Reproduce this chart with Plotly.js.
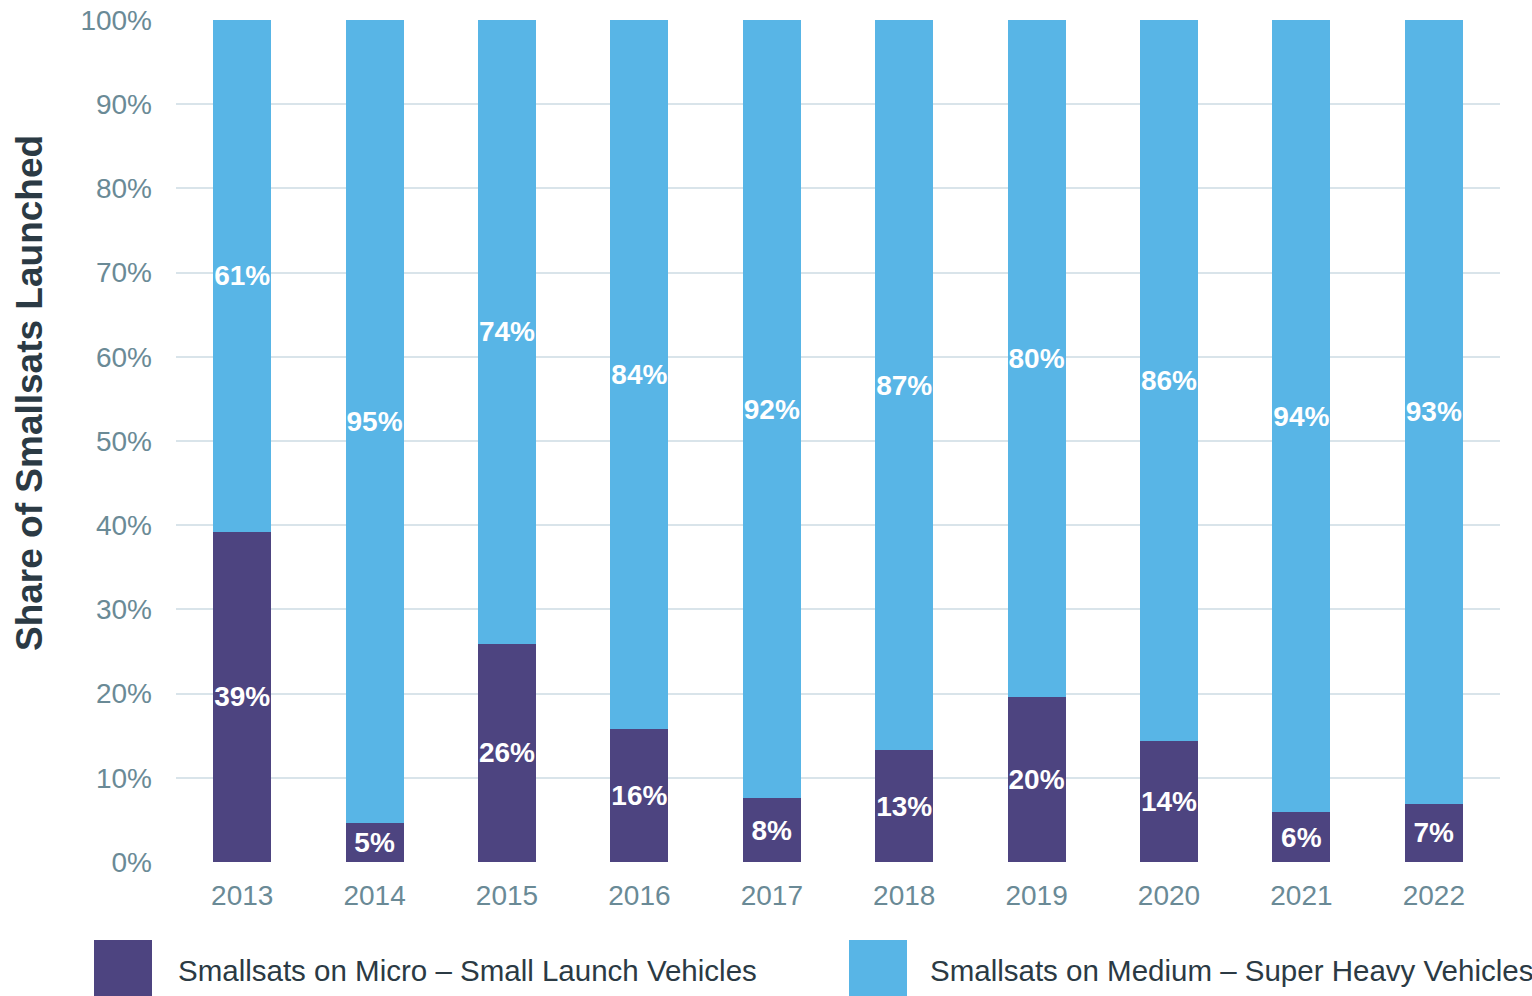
<!DOCTYPE html>
<html>
<head>
<meta charset="utf-8">
<script src="https://cdn.plot.ly/plotly-3.0.1.min.js"></script>
<style>html,body{margin:0;padding:0;background:#fff;}#chart{width:1532px;height:996px;}</style>
</head>
<body>
<div id="chart"></div>
<script>
const years = ['2013','2014','2015','2016','2017','2018','2019','2020','2021','2022'];
const microSmall = [39.2, 4.6, 25.9, 15.8, 7.6, 13.3, 19.6, 14.4, 5.9, 6.9];
const mediumHeavy = [60.8, 95.4, 74.1, 84.2, 92.4, 86.7, 80.4, 85.6, 94.1, 93.1];
const yTickVals = [0,10,20,30,40,50,60,70,80,90,100];
const yTickText = ['0%','10%','20%','30%','40%','50%','60%','70%','80%','90%','100%'];
const seriesNames = ['Smallsats on Micro – Small Launch Vehicles', 'Smallsats on Medium – Super Heavy Vehicles'];
const colors = ['#4d4480', '#58b5e6'];

const FONT = 'Liberation Sans, Arial, sans-serif';
const fmt = v => Math.round(v) + '%';

const common = {
  type: 'bar', x: years, textposition: 'inside', insidetextanchor: 'middle',
  textangle: 0, constraintext: 'none', cliponaxis: false,
  textfont: {family: FONT, size: 28, color: '#ffffff', weight: 'bold'},
  hoverinfo: 'x+y', showlegend: false
};
const traces = [
  Object.assign({}, common, {name: seriesNames[0], y: microSmall, text: microSmall.map(fmt), marker: {color: colors[0]}}),
  Object.assign({}, common, {name: seriesNames[1], y: mediumHeavy, text: mediumHeavy.map(fmt), marker: {color: colors[1]}})
];

const px2x = p => (p - 176) / 1324;
const px2y = p => (862 - p) / 842;

const layout = {
  width: 1532, height: 996,
  margin: {l: 176, r: 32, t: 20, b: 134},
  paper_bgcolor: '#ffffff', plot_bgcolor: '#ffffff',
  barmode: 'stack', bargap: 0.562,
  font: {family: FONT},
  xaxis: {
    type: 'category', showgrid: false, zeroline: false, showline: false,
    ticks: '', tickfont: {family: FONT, size: 28, color: '#6a8a96'}, ticklabelstandoff: 14
  },
  yaxis: {
    range: [0, 100], tickvals: yTickVals, ticktext: yTickText,
    showgrid: true, gridcolor: '#d9e4ea', gridwidth: 2, zeroline: false, showline: false,
    ticks: '', tickfont: {family: FONT, size: 28, color: '#6a8a96'}, ticklabelstandoff: 23
  },
  shapes: [
    {type: 'rect', xref: 'paper', yref: 'paper', x0: px2x(94), x1: px2x(152), y0: px2y(996), y1: px2y(940), fillcolor: colors[0], line: {width: 0}},
    {type: 'rect', xref: 'paper', yref: 'paper', x0: px2x(849), x1: px2x(907), y0: px2y(996), y1: px2y(940), fillcolor: colors[1], line: {width: 0}}
  ],
  annotations: [
    {text: 'Share of Smallsats Launched', xref: 'paper', yref: 'paper', x: px2x(29), y: px2y(393), textangle: -90,
     xanchor: 'center', yanchor: 'middle', showarrow: false, font: {family: FONT, size: 37, color: '#2b3a44', weight: 'bold'}},
    {text: seriesNames[0], xref: 'paper', yref: 'paper', x: px2x(176), y: px2y(970), xanchor: 'left', yanchor: 'middle',
     showarrow: false, font: {family: FONT, size: 29.5, color: '#2b3a44'}},
    {text: seriesNames[1], xref: 'paper', yref: 'paper', x: px2x(928), y: px2y(970), xanchor: 'left', yanchor: 'middle',
     showarrow: false, font: {family: FONT, size: 29.5, color: '#2b3a44'}}
  ]
};

Plotly.newPlot('chart', traces, layout, {displayModeBar: false, staticPlot: true});
</script>
</body>
</html>
